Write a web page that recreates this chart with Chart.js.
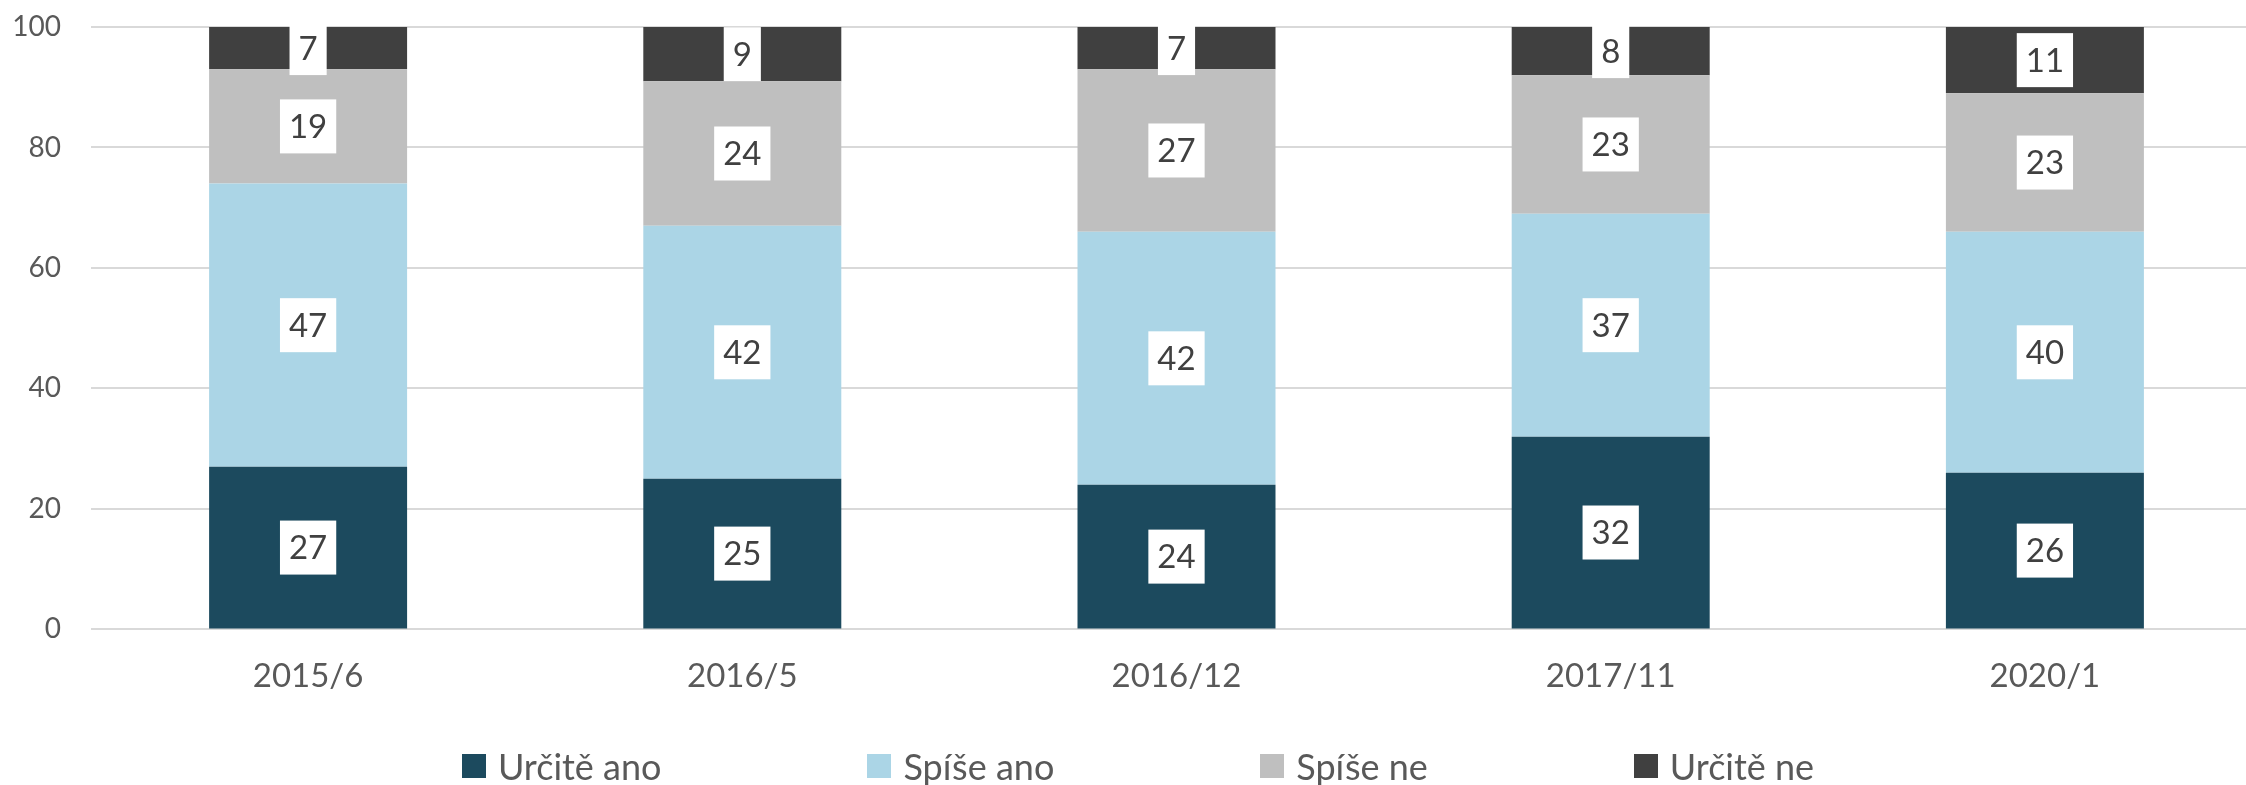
<!DOCTYPE html>
<html>
<head>
<meta charset="utf-8">
<script src="https://cdn.jsdelivr.net/npm/chart.js@4/dist/chart.umd.min.js"></script>
<style>
    html, body { margin: 0; padding: 0; background: #fff; overflow: hidden; }
    #wrap { position: relative; width: 2262px; height: 785px; }
    #legend {
        position: absolute; left: 0; top: 744px; width: 2276px;
        display: flex; justify-content: center; gap: 206px;
        font-family: Lato, sans-serif; font-size: 36px; color: #595959;
    }
    .item { display: flex; align-items: center; }
    .box { width: 24px; height: 24px; margin-right: 12px; }
</style>
</head>
<body>
<div id="wrap">
    <canvas id="chart" width="2262" height="785"></canvas>
    <div id="legend"></div>
</div>
<script>
const categories = ["2015/6", "2016/5", "2016/12", "2017/11", "2020/1"];
const urciteAno = [27, 25, 24, 32, 26];
const spiseAno = [47, 42, 42, 37, 40];
const spiseNe = [19, 24, 27, 23, 23];
const urciteNe = [7, 9, 7, 8, 11];
const yTicks = [0, 20, 40, 60, 80, 100];

const seriesNames = ["Určitě ano", "Spíše ano", "Spíše ne", "Určitě ne"];
const seriesColors = ["#1c4a5e", "#abd5e6", "#bfbfbf", "#404040"];
const seriesData = [urciteAno, spiseAno, spiseNe, urciteNe];

Chart.defaults.font.family = "Lato, 'Open Sans', sans-serif";
Chart.defaults.color = "#595959";

// popisky hodnot v bílých rámečcích
const valueLabels = {
    id: "valueLabels",
    afterDatasetsDraw(chart) {
        const ctx = chart.ctx;
        ctx.save();
        ctx.font = "33px Lato, 'Open Sans', sans-serif";
        ctx.textAlign = "center";
        ctx.textBaseline = "middle";
        chart.data.datasets.forEach((ds, i) => {
            const meta = chart.getDatasetMeta(i);
            meta.data.forEach((bar, j) => {
                const p = bar.getCenterPoint();
                const txt = String(ds.data[j]);
                const w = ctx.measureText(txt).width + 18;
                ctx.fillStyle = "#ffffff";
                ctx.fillRect(p.x - w / 2, p.y - 27, w, 54);
                ctx.fillStyle = "#404040";
                ctx.fillText(txt, p.x, p.y + 1);
            });
        });
        ctx.restore();
    }
};

document.addEventListener("DOMContentLoaded", () => {
    const el = document.getElementById("chart");
    new Chart(el, {
        type: "bar",
        data: {
            labels: categories,
            datasets: seriesData.map((d, i) => ({
                label: seriesNames[i],
                data: d,
                backgroundColor: seriesColors[i],
                borderWidth: 0,
                barPercentage: 0.456,
                categoryPercentage: 1
            }))
        },
        options: {
            responsive: false,
            animation: false,
            layout: { padding: { top: 27, left: 0, right: 0, bottom: 70 } },
            plugins: {
                legend: { display: false },
                tooltip: { enabled: false }
            },
            scales: {
                x: {
                    stacked: true,
                    grid: { display: false },
                    border: { display: false },
                    ticks: { color: "#595959", font: { size: 33 }, padding: 19 }
                },
                y: {
                    stacked: true,
                    min: 0,
                    max: 100,
                    afterFit: s => {
                        s.width = 91;
                        s.paddingTop = 0;
                        s.paddingBottom = 0;
                    },
                    afterBuildTicks: s => { s.ticks = yTicks.map(v => ({ value: v })); },
                    grid: { color: "#d9d9d9", lineWidth: 2, drawTicks: false },
                    border: { display: false },
                    ticks: { color: "#595959", font: { size: 28 }, padding: 30 }
                }
            }
        },
        plugins: [valueLabels]
    });

    const legend = document.getElementById("legend");
    seriesNames.forEach((name, i) => {
        const item = document.createElement("div");
        item.className = "item";
        item.innerHTML = `<span class="box" style="background:${seriesColors[i]}"></span><span>${name}</span>`;
        legend.appendChild(item);
    });
});
</script>
</body>
</html>
